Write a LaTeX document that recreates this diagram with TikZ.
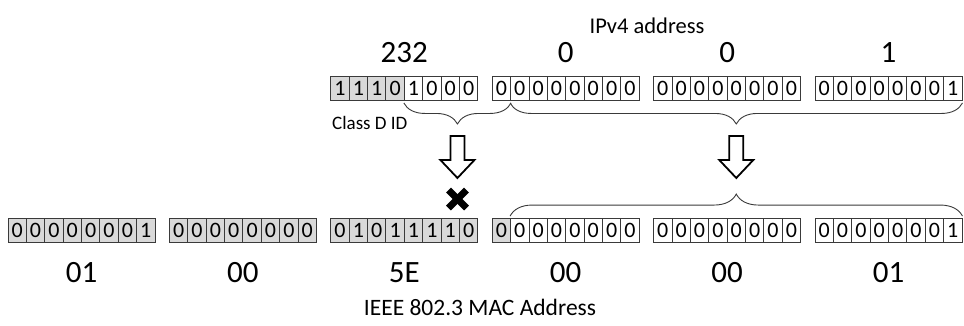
\documentclass[tikz,border=0pt]{standalone}
\usepackage{fontspec}
\setmainfont{Carlito}
\usetikzlibrary{calc,decorations.pathreplacing}
\definecolor{cellgray}{HTML}{D9D9D9}
\definecolor{cellline}{HTML}{3A3A3A}
\newcommand\bitfont{\fontsize{22}{26}\selectfont}
\newcommand\bigfont{\fontsize{31}{36}\selectfont}
\newcommand\midfont{\fontsize{22.5}{27}\selectfont}
\newcommand\macfont{\fontsize{23.5}{28}\selectfont}
\newcommand\smallfont{\fontsize{19}{22}\selectfont}
\begin{document}
\begin{tikzpicture}[x=1pt,y=-1pt,
  cell/.style={draw=cellline, line width=0.9pt, minimum width=18.375pt, minimum height=24pt, inner sep=0pt, font=\bitfont, text=black},
  bytelabel/.style={anchor=base, font=\bigfont, inner sep=0pt},
  title/.style={anchor=base, font=\midfont, inner sep=0pt},
  bracedown/.style={draw=cellline, line width=0.9pt, decorate, decoration={brace, amplitude=21pt, mirror, raise=2pt}},
  braceup/.style={draw=cellline, line width=0.9pt, decorate, decoration={brace, amplitude=22pt, raise=2pt}},
  blockarrow/.style={draw=black, line width=1.8pt, fill=white, line join=miter},
  crossmark/.style={draw=black, line width=7pt, line cap=butt}
]
\useasboundingbox (0,0) rectangle (964,325);

% IPv4 address bits
\foreach \byte [count=\k] in {
  {1/cellgray,1/cellgray,1/cellgray,0/cellgray,1/white,0/white,0/white,0/white},
  {0/white,0/white,0/white,0/white,0/white,0/white,0/white,0/white},
  {0/white,0/white,0/white,0/white,0/white,0/white,0/white,0/white},
  {0/white,0/white,0/white,0/white,0/white,0/white,0/white,1/white}}{
  \foreach \bit/\col [count=\i] in \byte {
    \node[cell, fill=\col] (t\k-\i) at ({330.8+161.4*(\k-1)+18.375*(\i-0.5)}, 88.5) {\bit};
  }
}

% MAC address bits
\foreach \byte [count=\k] in {
  {0/cellgray,0/cellgray,0/cellgray,0/cellgray,0/cellgray,0/cellgray,0/cellgray,1/cellgray},
  {0/cellgray,0/cellgray,0/cellgray,0/cellgray,0/cellgray,0/cellgray,0/cellgray,0/cellgray},
  {0/cellgray,1/cellgray,0/cellgray,1/cellgray,1/cellgray,1/cellgray,1/cellgray,0/cellgray},
  {0/cellgray,0/white,0/white,0/white,0/white,0/white,0/white,0/white},
  {0/white,0/white,0/white,0/white,0/white,0/white,0/white,0/white},
  {0/white,0/white,0/white,0/white,0/white,0/white,0/white,1/white}}{
  \foreach \bit/\col [count=\i] in \byte {
    \node[cell, fill=\col] (b\k-\i) at ({8+161.4*(\k-1)+18.375*(\i-0.5)}, 230.5) {\bit};
  }
}

% titles
\node[title] (iptitle) at (647,33) {IPv4 address};
\node[anchor=base, font=\macfont, inner sep=0pt] (mactitle) at (480,315) {IEEE 802.3 MAC Address};
\node[anchor=base west, font=\smallfont, inner sep=0pt] (classd) at (332,129) {Class D ID};

% byte values
\foreach \v [count=\k] in {232,0,0,1}{
  \node[bytelabel] (tv\k) at ({330.8+161.4*(\k-1)+73.5}, 62) {\v};
}
\foreach \v [count=\k] in {01,00,5E,00,00,01}{
  \node[bytelabel] (bv\k) at ({8+161.4*(\k-1)+73.5}, 282) {\v};
}

% braces
\draw[bracedown] (t1-5.south west) -- (t2-1.south east);
\draw[bracedown] (t2-2.south west) -- (t4-8.south east);
\draw[braceup] (b4-2.north west) -- (b6-8.north east);

% block arrows
\coordinate (arrA) at ($(t1-5.south west)!0.5!(t2-1.south east)$);
\coordinate (arrB) at ($(t2-2.south west)!0.5!(t4-8.south east)$);
\foreach \a in {arrA,arrB}{
  \draw[blockarrow] (\a |- 0,136) ++(-7,0) -- ++(14,0) -- ++(0,24) -- ++(10,0) -- ++(-17,18) -- ++(-17,-18) -- ++(10,0) -- cycle;
}

% cross
\coordinate (cross) at (457.5,199);
\draw[crossmark] ($(cross)+(-9,-9)$) -- ($(cross)+(9,9)$);
\draw[crossmark] ($(cross)+(-9,9)$) -- ($(cross)+(9,-9)$);
\end{tikzpicture}
\end{document}
